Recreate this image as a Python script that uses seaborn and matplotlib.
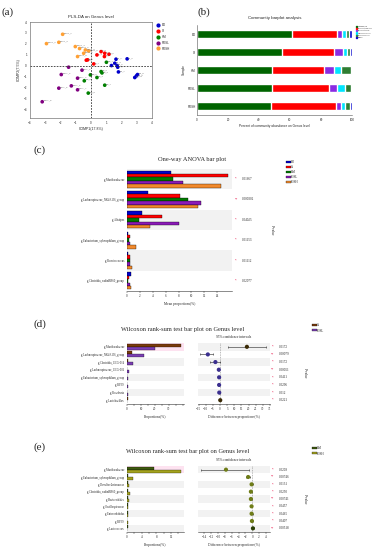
import numpy as np
import pandas as pd
import matplotlib
matplotlib.use("Agg")
import matplotlib.pyplot as plt
from matplotlib.patches import Patch
from matplotlib.lines import Line2D
import seaborn as sns

# ---- (a) PLS-DA scores ----
bd_x = [1.64, 2.37, 1.56, 1.34, 1.71, 1.75, 1.80, 3.05, 2.98, 2.87]
bd_y = [0.61, 0.64, 0.24, 0.03, 0.03, -0.12, -0.55, -0.79, -0.91, -1.06]
ct_x = [-0.22, -0.31, 0.39, 0.90, 1.18, 0.88, 0.18, 0.66]
ct_y = [0.55, 0.52, 1.00, 1.15, 1.06, 0.85, 0.18, 1.30]
hm_x = [1.01, 0.66, 0.72, 0.39, -0.04, -0.44, 0.90, -0.18]
hm_y = [0.33, -0.52, -0.64, -1.06, -0.82, -1.36, -1.76, -2.48]
fosl_x = [-1.47, -1.95, -0.59, -0.88, -1.29, -2.11, -0.88, -3.20]
fosl_y = [-0.12, -0.79, -0.39, -1.12, -1.82, -2.03, -2.18, -3.27]
fosh_x = [-1.86, -2.92, -2.11, -1.03, -0.75, -0.15, -0.48, -0.88, -0.37]
fosh_y = [2.88, 2.03, 2.15, 1.76, 1.58, 1.36, 1.15, 0.85, 1.45]

groups = ["BD", "Ct", "HM", "FOSL", "FOSH"]
group_colors = ["#0000cc", "#ff0000", "#008000", "#800080", "#ffa033"]

# ---- (b) community barplot (%) ----
samples = ["BD", "Ct", "HM", "FOSL", "FOSH"]
taxa = ["Lactobacillus", "Limosilactobacillus", "Bifidobacterium",
        "Lachnospiraceae", "Muribaculaceae", "Others"]
taxa_colors = ["#006400", "#ff0000", "#8a2be2", "#00e5ff", "#2e7d32", "#0000cd"]
lacto = [61.0, 54.6, 48.2, 48.2, 47.7]
limo = [29.0, 33.6, 34.0, 37.2, 41.8]
bifido = [3.4, 5.8, 6.0, 5.0, 3.6]
lachno = [2.6, 3.0, 4.5, 5.1, 2.6]
murib = [2.0, 2.0, 6.7, 3.9, 2.8]
others = [2.0, 1.0, 0.6, 0.6, 1.5]

# ---- (c) one-way ANOVA ----
anova_genus = ["g_Muribaculaceae", "g_Lachnospiraceae_NK4A136_group", "g_Alistipes",
               "g_Eubacterium_xylanophilum_group", "g_Ruminococcus",
               "g_Clostridia_vadinBB60_group"]
anova_bd = [6.8, 3.2, 2.4, 0.1, 0.15, 0.6]
anova_ct = [15.7, 8.2, 5.5, 0.5, 0.5, 0.3]
anova_hm = [7.1, 9.4, 1.9, 0.3, 0.4, 0.2]
anova_fosl = [8.7, 11.5, 8.0, 0.5, 0.5, 0.4]
anova_fosh = [14.6, 11.0, 3.6, 1.4, 0.7, 0.6]
anova_p = ["0.01667", "0.000302", "0.04025", "0.01153", "0.01112", "0.02077"]
anova_star = ["*", "**", "*", "*", "*", "*"]

# ---- (d) Wilcoxon Ct vs FOSL ----
d_genus = ["g_Muribaculaceae", "g_Lachnospiraceae_NK4A136_group", "g_Clostridia_UCG-014",
           "g_Lachnospiraceae_UCG-006", "g_Eubacterium_xylanophilum_group", "g_RF39",
           "g_Roseburia", "g_Lactobacillus"]
d_groups = ["Ct", "FOSL"]
d_colors = ["#7a3b0b", "#7b3fb3"]
d_ct = [39.0, 3.8, 1.0, 0.3, 0.3, 0.3, 0.2, 0.4]
d_fosl = [20.0, 12.0, 4.5, 1.2, 1.0, 1.0, 0.8, 0.3]
d_diff = [18.8, -8.6, -3.3, -0.9, -0.7, -0.7, -0.6, 0.1]
d_low = [5.3, -14.4, -7.0, -1.3, -1.1, -1.1, -1.0, -0.2]
d_high = [31.9, -5.1, 0.0, -0.5, -0.3, -0.3, -0.2, 0.4]
d_p = ["0.0172", "0.00079", "0.0172", "0.00051", "0.0411", "0.0296", "0.012", "0.0221"]
d_star = ["*", "**", "*", "**", "*", "*", "*", "*"]

# ---- (e) Wilcoxon HM vs FOSH ----
e_genus = ["g_Muribaculaceae", "g_Eubacterium_xylanophilum_group", "g_Desulfovibrionaceae",
           "g_Clostridia_vadinBB60_group", "g_Bacteroidales", "g_Oscillospiraceae",
           "g_Enterorhabdus", "g_RF39", "g_Lactococcus"]
e_groups = ["HM", "FOSH"]
e_colors = ["#3f5a10", "#a3a21e"]
e_hm = [7.3, 0.3, 0.3, 0.3, 0.2, 0.2, 0.2, 0.1, 0.3]
e_fosh = [14.8, 1.5, 0.6, 0.7, 0.6, 0.4, 0.4, 0.2, 0.1]
e_diff = [-7.7, -1.2, -0.2, -0.4, -0.4, -0.2, -0.2, -0.1, 0.2]
e_low = [-15.0, -1.8, -0.5, -0.7, -0.7, -0.4, -0.5, -0.3, 0.0]
e_high = [-0.9, -0.6, 0.1, -0.1, -0.1, 0.0, 0.1, 0.1, 0.4]
e_p = ["0.0209", "0.00746", "0.0131", "0.0250", "0.00741", "0.0457", "0.0465", "0.0407", "0.00518"]
e_star = ["*", "**", "*", "*", "**", "*", "*", "*", "**"]

sns.set_style("white")
SERIF = ["Liberation Serif", "DejaVu Serif"]
SANS = ["Liberation Sans", "DejaVu Sans"]
plt.rcParams["font.family"] = SANS

W, H = 378, 550


def rect(x0, y0, x1, y1):
    return [x0 / W, 1 - y1 / H, (x1 - x0) / W, (y1 - y0) / H]


fig = plt.figure(figsize=(3.78, 5.5), dpi=100)
fig.patch.set_facecolor("white")

# panel letters
for lab, x, y in [("(a)", 2, 12), ("(b)", 198, 12), ("(c)", 33, 150), ("(d)", 33, 324), ("(e)", 33, 447)]:
    fig.text(x / W, 1 - y / H, lab, fontsize=8, family=SERIF, va="center", ha="left")

# ================= (a) =================
frames = []
for g, xs, ys in zip(groups, [bd_x, ct_x, hm_x, fosl_x, fosh_x], [bd_y, ct_y, hm_y, fosl_y, fosh_y]):
    frames.append(pd.DataFrame({"x": xs, "y": ys, "group": g,
                                "name": [f"{g}_{i + 1}" for i in range(len(xs))]}))
pls = pd.concat(frames, ignore_index=True)

ax = fig.add_axes(rect(30, 22, 152, 118))
sns.scatterplot(data=pls, x="x", y="y", hue="group", hue_order=groups,
                palette=group_colors, s=7, edgecolor="none", ax=ax, legend=False)
for _, r in pls.iterrows():
    ax.text(r.x + 0.08, r.y + 0.08, r["name"], fontsize=1.6, color="#666666")
ax.axhline(0, color="#333333", lw=0.6, ls=(0, (2, 1.5)))
ax.axvline(0, color="#333333", lw=0.6, ls=(0, (2, 1.5)))
ax.set_xlim(-4, 4)
ax.set_ylim(-4.75, 4)
ax.set_xticks(range(-4, 5))
ax.set_yticks(range(-4, 5))
ax.tick_params(labelsize=2.2, length=1.2, width=0.3, pad=1)
for s in ax.spines.values():
    s.set_linewidth(0.4)
    s.set_color("#555555")
ax.set_xlabel("COMP1(17.8%)", fontsize=2.5, labelpad=1.5)
ax.set_ylabel("COMP2(7.5%)", fontsize=2.5, labelpad=1.5)
ax.set_title("PLS-DA on Genus level", fontsize=3.2, pad=3)
hs = [Line2D([], [], marker="o", ls="", color=c, markersize=2) for c in group_colors]
ax.legend(hs, groups, loc="upper left", bbox_to_anchor=(1.03, 1.0), frameon=False,
          fontsize=2.2, handlelength=0.8, labelspacing=0.6, borderaxespad=0)

# ================= (b) =================
comm = pd.DataFrame(dict(zip(taxa, [lacto, limo, bifido, lachno, murib, others])), index=samples)
cum = comm.cumsum(axis=1)
ax = fig.add_axes(rect(197, 25, 352, 115))
for t, c in reversed(list(zip(taxa, taxa_colors))):
    sns.barplot(x=cum[t].values, y=cum.index, color=c, orient="h", width=0.47,
                saturation=1, ax=ax)
ax.set_xlim(0, 100)
ax.set_xticks([0, 20, 40, 60, 80, 100])
ax.set_xticklabels(["0", "20", "40", "60", "80", "100"])
ax.tick_params(labelsize=2.2, length=1.2, width=0.3, pad=1)
ax.tick_params(axis="y", length=0)
for side in ["top", "right"]:
    ax.spines[side].set_visible(False)
for side in ["left", "bottom"]:
    ax.spines[side].set_linewidth(0.4)
    ax.spines[side].set_color("#555555")
ax.set_xlabel("Percent of community abundance on Genus level", fontsize=2.3, labelpad=1.5)
ax.set_ylabel("Sample", fontsize=2.3, labelpad=1)
ax.set_title("Community barplot analysis", fontsize=3.2, pad=4)
hs = [Patch(color=c) for c in taxa_colors]
ax.legend(hs, taxa, loc="upper left", bbox_to_anchor=(1.02, 1.0), frameon=False,
          fontsize=1.3, handlelength=0.9, handleheight=0.6, labelspacing=0.55,
          borderaxespad=0, handletextpad=0.3)


def style_bar_axes(ax, n):
    ax.set_ylim(n - 0.5, -0.5)
    for s in ["top", "right", "left"]:
        ax.spines[s].set_visible(False)
    ax.spines["bottom"].set_linewidth(0.4)
    ax.spines["bottom"].set_color("#333333")
    ax.tick_params(axis="y", length=0, labelsize=2.1, pad=1.5)
    ax.tick_params(axis="x", length=1.2, width=0.3, labelsize=2.3, pad=1, bottom=True)
    for lbl in ax.get_yticklabels() + ax.get_xticklabels():
        lbl.set_family(SERIF)
    ax.set_ylabel("")
    ax.grid(False)


def add_pvals(ax, stars, pvals, xs, xp, xlab):
    tr = ax.get_yaxis_transform()
    for i, (st, pv) in enumerate(zip(stars, pvals)):
        ax.text(xs, i, st, transform=tr, fontsize=3, color="#e8194c", ha="center", va="center")
        ax.text(xp, i, pv, transform=tr, fontsize=2.3, family=SERIF, ha="left", va="center")
    ax.text(xlab, 0.5, "P-value", transform=ax.transAxes, rotation=270, fontsize=2.5,
            family=SERIF, ha="center", va="center")


# ================= (c) =================
anova = pd.DataFrame({"genus": anova_genus, "BD": anova_bd, "Ct": anova_ct, "HM": anova_hm,
                      "FOSL": anova_fosl, "FOSH": anova_fosh})
anova_long = anova.melt(id_vars="genus", var_name="group", value_name="value")
ax = fig.add_axes(rect(127, 169, 232, 291))
for i in range(0, len(anova_genus), 2):
    ax.axhspan(i - 0.5, i + 0.5, color="#f2f2f2", zorder=0, lw=0)
c_colors = ["#0000cc", "#ff0000", "#007a00", "#8b1ab8", "#f28a2c"]
sns.barplot(data=anova_long, y="genus", x="value", hue="group", order=anova_genus,
            hue_order=groups, palette=c_colors, orient="h", width=0.85, saturation=1,
            edgecolor="black", linewidth=0.25, legend=False, ax=ax)
ax.set_xlim(0, 16.3)
ax.set_xticks(range(0, 15, 2))
style_bar_axes(ax, len(anova_genus))
ax.set_xlabel("Mean proportions(%)", fontsize=2.6, family=SERIF, labelpad=3)
add_pvals(ax, anova_star, anova_p, 1.04, 1.09, 1.38)
fig.text(192 / W, 1 - 160 / H, "One-way ANOVA bar plot", fontsize=4.6, family=SERIF,
         ha="center", va="center")
hs = [Patch(facecolor=c, edgecolor="black", lw=0.2) for c in c_colors]
fig.legend(hs, groups, loc="upper left", bbox_to_anchor=(286 / W, 1 - 160 / H), frameon=False,
           prop={"family": SERIF, "size": 2.2}, handlelength=1.5, handleheight=0.6,
           labelspacing=0.35, borderaxespad=0, borderpad=0, handletextpad=0.2)


def wilcoxon_panel(top, bottom, genus, gnames, gcolors, v1, v2, diff, low, high, stars, pvals,
                   xmax, ticks, ticklabels, cxlim, cticks, title, title_x, title_y, leg_y):
    n = len(genus)
    df = pd.DataFrame({"genus": genus, gnames[0]: v1, gnames[1]: v2})
    long = df.melt(id_vars="genus", var_name="group", value_name="value")
    axl = fig.add_axes(rect(127, top, 184, bottom))
    axl.axhspan(-0.5, 0.5, color="#fde2f0", zorder=0, lw=0)
    for i in range(2, n, 2):
        axl.axhspan(i - 0.5, i + 0.5, color="#f2f2f2", zorder=0, lw=0)
    sns.barplot(data=long, y="genus", x="value", hue="group", order=genus, hue_order=gnames,
                palette=gcolors, orient="h", width=0.8, saturation=1, edgecolor="black",
                linewidth=0.2, legend=False, ax=axl)
    axl.set_xlim(0, xmax)
    axl.set_xticks(ticks)
    axl.set_xticklabels(ticklabels)
    style_bar_axes(axl, n)
    axl.set_xlabel("Proportions(%)", fontsize=2.6, family=SERIF, labelpad=3)

    axr = fig.add_axes(rect(198, top, 270, bottom))
    for i in range(0, n, 2):
        axr.axhspan(i - 0.5, i + 0.5, color="#f2f2f2", zorder=0, lw=0)
    pts = pd.DataFrame({"genus": genus, "diff": diff, "low": low, "high": high})
    pts["pos"] = np.arange(n)
    pts["side"] = np.where(pts["diff"] > 0, gnames[0], gnames[1])
    axr.errorbar(pts["diff"], pts["pos"],
                 xerr=[pts["diff"] - pts["low"], pts["high"] - pts["diff"]],
                 fmt="none", ecolor="#222222", elinewidth=0.4, capsize=1, capthick=0.4, zorder=2)
    pcol = {gnames[0]: gcolors[0] if gnames[0] != "Ct" else "#3a2a05",
            gnames[1]: "#3b2f8f" if gnames[1] == "FOSL" else "#6f7d18"}
    if gnames[0] == "HM":
        pcol[gnames[0]] = "#2a3f05"
    sns.scatterplot(data=pts, x="diff", y="pos", hue="side", palette=pcol, s=9,
                    edgecolor="none", legend=False, zorder=3, ax=axr)
    axr.axvline(0, color="#777777", lw=0.4, ls=(0, (1.5, 1.5)), zorder=1)
    axr.set_xlim(*cxlim)
    axr.set_xticks(cticks)
    axr.set_yticks(range(n))
    axr.set_yticklabels([])
    style_bar_axes(axr, n)
    axr.set_xlabel("Difference between proportions(%)", fontsize=2.6, family=SERIF, labelpad=3)
    axr.text(0.5, 1.06, "95% confidence intervals", transform=axr.transAxes, fontsize=2.5,
             family=SERIF, ha="center", va="bottom")
    add_pvals(axr, stars, pvals, 1.04, 1.12, 1.49)
    fig.text(title_x / W, 1 - title_y / H, title, fontsize=4.6, family=SERIF,
             ha="center", va="center")
    hs = [Patch(facecolor=c, edgecolor="black", lw=0.2) for c in gcolors]
    fig.legend(hs, gnames, loc="upper left", bbox_to_anchor=(312 / W, 1 - leg_y / H),
               frameon=False, prop={"family": SERIF, "size": 2.2}, handlelength=1.5,
               handleheight=0.6, labelspacing=0.5, borderaxespad=0, borderpad=0,
               handletextpad=0.2)


# ================= (d) =================
wilcoxon_panel(343, 404, d_genus, d_groups, d_colors, d_ct, d_fosl, d_diff, d_low, d_high,
               d_star, d_p, 41, list(range(0, 41, 5)),
               ["0", "", "10", "", "20", "", "30", "", ""],
               (-15.5, 35), list(range(-15, 36, 5)),
               "Wilcoxon rank-sum test bar plot on Genus level", 183, 330, 323)

# ================= (e) =================
wilcoxon_panel(466, 532, e_genus, e_groups, e_colors, e_hm, e_fosh, e_diff, e_low, e_high,
               e_star, e_p, 15.5, list(range(0, 16, 2)),
               ["0", "", "4", "", "8", "", "12", ""],
               (-15.9, 5.2), list(range(-14, 5, 2)),
               "Wilcoxon rank-sum test bar plot on Genus level", 188, 452, 446)

fig.savefig("out.png", dpi=100, facecolor="white")
